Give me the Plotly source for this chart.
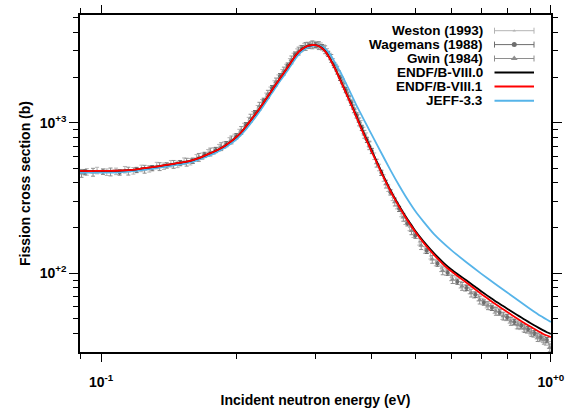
import math
import plotly.graph_objects as go

# ---------------- data ----------------
# Evaluated curves (energy in eV, cross section in barns)
endf_E = [0.0898, 0.095, 0.100, 0.105, 0.110, 0.115, 0.120, 0.125, 0.130, 0.135, 0.140, 0.145,
          0.150, 0.155, 0.160, 0.165, 0.170, 0.175, 0.180, 0.185, 0.190, 0.195, 0.200, 0.205,
          0.210, 0.215, 0.220, 0.225, 0.230, 0.235, 0.240, 0.245, 0.250, 0.255, 0.260, 0.265,
          0.270, 0.275, 0.280, 0.285, 0.290, 0.295, 0.300, 0.305, 0.310, 0.315, 0.320, 0.325,
          0.330, 0.335, 0.340, 0.345, 0.350, 0.355, 0.360, 0.365, 0.370, 0.375, 0.380, 0.385,
          0.390, 0.400, 0.410, 0.420, 0.430, 0.440, 0.450, 0.460, 0.470, 0.480, 0.490, 0.500,
          0.520, 0.540, 0.560, 0.580, 0.600, 0.620, 0.640, 0.660, 0.680, 0.700, 0.720, 0.740,
          0.760, 0.780, 0.800, 0.820, 0.840, 0.860, 0.880, 0.900, 0.920, 0.940, 0.960, 0.980, 1.000]
endf81_xs = [479, 478, 479, 479, 481, 485, 491, 499, 508, 516, 525, 534,
             543, 551, 565, 582, 605, 628, 652, 680, 715, 755, 805, 865,
             945, 1035, 1130, 1240, 1365, 1500, 1650, 1810, 1975, 2150, 2340, 2550,
             2770, 2960, 3090, 3190, 3250, 3285, 3275, 3225, 3130, 2980, 2780, 2560,
             2340, 2130, 1930, 1750, 1590, 1445, 1315, 1195, 1085, 985, 898, 822,
             755, 640, 545, 467, 403, 352, 311, 277, 249, 225, 205, 188,
             161, 141, 125, 112.5, 103.5, 96, 89.5, 83.5, 78, 73, 68.7, 64.8,
             61.3, 58.2, 55.3, 52.7, 50.3, 48.1, 46.1, 44.3, 42.6, 41.1, 39.7, 38.6, 37.7]
endf80_xs = [479, 478, 479, 479, 481, 485, 491, 499, 508, 516, 525, 534,
             543, 551, 565, 582, 605, 628, 652, 680, 715, 755, 805, 865,
             945, 1035, 1130, 1240, 1365, 1500, 1650, 1810, 1975, 2150, 2340, 2550,
             2770, 2960, 3090, 3190, 3250, 3285, 3278, 3230, 3138, 2990, 2792, 2573,
             2352, 2140, 1942, 1762, 1603, 1458, 1328, 1208, 1098, 998, 910, 834,
             766, 650, 554, 474, 409, 357, 315, 281, 253, 229, 209, 191,
             164.5, 144.5, 128.5, 116, 106.5, 99, 92.5, 86.5, 81, 76, 71.6, 67.8,
             64.2, 61.1, 58.2, 55.5, 53.1, 50.8, 48.7, 46.8, 45, 43.4, 41.9, 40.6, 39.6]

jeff_E = [0.0898, 0.10, 0.11, 0.12, 0.13, 0.14, 0.15, 0.16, 0.17, 0.18, 0.19, 0.20, 0.21, 0.22,
          0.23, 0.24, 0.25, 0.26, 0.27, 0.275, 0.28, 0.285, 0.29, 0.295, 0.30, 0.305, 0.31,
          0.315, 0.32, 0.325, 0.33, 0.34, 0.35, 0.36, 0.37, 0.38, 0.39, 0.40, 0.42, 0.44,
          0.46, 0.48, 0.50, 0.52, 0.55, 0.60, 0.65, 0.70, 0.75, 0.80, 0.85, 0.90, 0.95, 1.0]
jeff_xs = [467, 467, 469, 479, 495, 512, 530, 550, 588, 633, 692, 776, 905, 1080,
           1305, 1580, 1895, 2230, 2640, 2830, 2990, 3110, 3195, 3245, 3265, 3250, 3205,
           3110, 2960, 2780, 2560, 2190, 1840, 1545, 1300, 1115, 960, 830, 630, 485,
           383, 310, 258, 222, 182, 143, 118, 99.5, 85.5, 74.5, 65.5, 58, 52, 47.5]

# Measurements
weston_E = [0.093, 0.098, 0.103, 0.108, 0.113, 0.118, 0.123, 0.128, 0.133, 0.138, 0.143, 0.148,
            0.153, 0.158, 0.163, 0.168, 0.173, 0.178, 0.183, 0.188, 0.193, 0.198, 0.203, 0.208,
            0.213, 0.218, 0.223, 0.228, 0.233, 0.238, 0.243, 0.248, 0.253, 0.258, 0.263, 0.268,
            0.273, 0.278, 0.283, 0.288, 0.293, 0.298, 0.303, 0.308, 0.313, 0.318, 0.323, 0.328,
            0.333, 0.338, 0.343, 0.348, 0.353, 0.358, 0.363, 0.368, 0.373, 0.378, 0.383, 0.388,
            0.395, 0.405, 0.415, 0.425, 0.435, 0.445, 0.455, 0.465, 0.475, 0.485, 0.495, 0.51,
            0.525, 0.54, 0.555, 0.57, 0.585, 0.60, 0.615, 0.63, 0.645, 0.66, 0.675, 0.69,
            0.705, 0.72, 0.735, 0.75, 0.765, 0.78, 0.795, 0.81, 0.825, 0.84, 0.855, 0.87,
            0.885, 0.90, 0.915, 0.93, 0.945, 0.96, 0.975, 0.99]
weston_xs = [472, 482, 470, 476, 488, 480, 498, 495, 520, 515, 535, 530,
             556, 552, 585, 600, 632, 650, 684, 712, 758, 800, 862, 945,
             1035, 1130, 1240, 1360, 1500, 1645, 1810, 1980, 2150, 2330, 2540, 2760,
             2950, 3110, 3210, 3270, 3300, 3310, 3290, 3230, 3130, 2960, 2760, 2540,
             2330, 2120, 1920, 1750, 1590, 1445, 1310, 1195, 1085, 985, 890, 815,
             720, 600, 505, 430, 368, 320, 282, 250, 222, 202, 182, 162,
             143, 131, 118, 108, 102, 94, 90, 84, 80, 77, 72, 69,
             65, 62, 60, 57, 55.5, 52, 51, 49, 47.5, 45, 44.5, 43,
             42, 41, 39.5, 38.5, 37, 36.5, 35, 33.5]

wagemans_E = [0.092, 0.101, 0.110, 0.120, 0.130, 0.140, 0.150, 0.160, 0.170, 0.180, 0.190, 0.200,
              0.210, 0.220, 0.230, 0.240, 0.250, 0.260, 0.270, 0.280, 0.290, 0.300, 0.310, 0.320,
              0.330, 0.340, 0.350, 0.360, 0.370, 0.380, 0.390, 0.400, 0.420, 0.440, 0.460, 0.480,
              0.500, 0.530, 0.560, 0.590, 0.620, 0.650, 0.680, 0.710, 0.740, 0.770, 0.800, 0.830,
              0.860, 0.890, 0.920, 0.950, 0.980]
wagemans_xs = [470, 474, 468, 486, 500, 521, 540, 560, 612, 660, 722, 815,
               965, 1160, 1400, 1700, 2040, 2400, 2840, 3130, 3260, 3290, 3180, 2870,
               2420, 1990, 1650, 1360, 1120, 925, 770, 650, 465, 345, 268, 215,
               178, 141, 116, 101, 88, 80, 72, 64, 59, 55, 51, 47.5,
               45, 42.5, 40, 37.5, 36]

gwin_E = [0.0905, 0.096, 0.105, 0.115, 0.125, 0.135, 0.145, 0.155, 0.165, 0.175, 0.185, 0.195,
          0.205, 0.215, 0.225, 0.235, 0.245, 0.255, 0.265, 0.275, 0.285, 0.295, 0.305, 0.315,
          0.325, 0.335, 0.345, 0.355, 0.365, 0.375, 0.385, 0.395, 0.41, 0.43, 0.45, 0.47,
          0.49, 0.515, 0.545, 0.575, 0.605, 0.635, 0.665, 0.695, 0.725, 0.755, 0.785, 0.815,
          0.845, 0.875, 0.905, 0.935, 0.965, 0.995]
gwin_xs = [462, 470, 472, 478, 492, 512, 530, 548, 590, 640, 695, 770,
           890, 1075, 1290, 1550, 1870, 2210, 2620, 3000, 3220, 3300, 3260, 3060,
           2680, 2240, 1840, 1510, 1240, 1015, 840, 705, 540, 392, 298, 236,
           192, 153, 124, 104, 91, 82, 74, 66.5, 61, 56, 52, 48,
           45.5, 43, 40.5, 37.5, 36, 32]

x_tick_vals = [0.1, 1.0]
x_tick_text = ["10<sup>-1</sup>", "10<sup>+0</sup>"]
y_tick_vals = [100, 1000]
y_tick_text = ["10<sup>+2</sup>", "10<sup>+3</sup>"]
x_minor_vals = [0.09, 0.2, 0.3, 0.4, 0.5, 0.6, 0.7, 0.8, 0.9]
y_minor_vals = [40, 50, 60, 70, 80, 90, 200, 300, 400, 500, 600, 700, 800, 900,
                2000, 3000, 4000, 5000]

legend_names = ["Weston (1993)", "Wagemans (1988)", "Gwin (1984)",
                "ENDF/B-VIII.0", "ENDF/B-VIII.1", "JEFF-3.3"]

# ---------------- styles ----------------
FONT = "Liberation Sans, Arial, Helvetica, sans-serif"
C_WESTON = "#b4b4b4"
C_WAGEMANS = "#6e6e6e"
C_GWIN = "#8e8e8e"
C_E80 = "#000000"
C_E81 = "#ff0000"
C_JEFF = "#56b4e9"

fig = go.Figure()

def exp_trace(E, xs, color, symbol, size, pct):
    return go.Scatter(
        x=E, y=xs, mode="markers",
        marker=dict(color=color, symbol=symbol, size=size, line=dict(width=0)),
        error_y=dict(type="percent", value=pct, color=color, thickness=1, width=2),
        showlegend=False, hoverinfo="x+y")

fig.add_trace(exp_trace(weston_E, weston_xs, C_WESTON, "triangle-up", 3, 5))
fig.add_trace(exp_trace(wagemans_E, wagemans_xs, C_WAGEMANS, "circle", 4, 4))
fig.add_trace(exp_trace(gwin_E, gwin_xs, C_GWIN, "triangle-up", 5, 6))

fig.add_trace(go.Scatter(x=jeff_E, y=jeff_xs, mode="lines",
                         line=dict(color=C_JEFF, width=1.8, shape="spline", smoothing=0.6),
                         showlegend=False))
fig.add_trace(go.Scatter(x=endf_E, y=endf80_xs, mode="lines",
                         line=dict(color=C_E80, width=1.8, shape="spline", smoothing=0.6),
                         showlegend=False))
fig.add_trace(go.Scatter(x=endf_E, y=endf81_xs, mode="lines",
                         line=dict(color=C_E81, width=1.8, shape="spline", smoothing=0.6),
                         showlegend=False))

# ---------------- custom legend (text left of sample, like gnuplot) ----------------
W, H = 573, 408
L, R, T, B = 80, 551, 15, 352
row_py = [30.7, 44.6, 58.5, 72.5, 86.6, 100.7]
text_right_px = 485
samp_x0_px, samp_x1_px = 494.5, 534

def px2x(px):
    return (px - L) / (R - L)

def py2y(py):
    return (B - py) / (B - T)

sample_styles = [
    ("err", C_WESTON, "triangle-up", 3),
    ("err", C_WAGEMANS, "circle", 5),
    ("err", C_GWIN, "triangle-up", 6),
    ("line", C_E80, None, None),
    ("line", C_E81, None, None),
    ("line", C_JEFF, None, None),
]
annotations = []
xc = (px2x(samp_x0_px) + px2x(samp_x1_px)) / 2
half = (px2x(samp_x1_px) - px2x(samp_x0_px)) / 2
for name, py, (kind, col, sym, sz) in zip(legend_names, row_py, sample_styles):
    yy = py2y(py)
    if kind == "err":
        fig.add_trace(go.Scatter(
            x=[xc], y=[yy], xaxis="x2", yaxis="y2", mode="markers",
            marker=dict(color=col, symbol=sym, size=sz),
            error_x=dict(type="data", array=[half], color=col, thickness=1, width=3),
            showlegend=False, hoverinfo="skip"))
    else:
        fig.add_trace(go.Scatter(
            x=[px2x(samp_x0_px), px2x(samp_x1_px)], y=[yy, yy], xaxis="x2", yaxis="y2",
            mode="lines", line=dict(color=col, width=2),
            showlegend=False, hoverinfo="skip"))
    annotations.append(dict(
        x=px2x(text_right_px), y=yy, xref="paper", yref="paper",
        xanchor="right", yanchor="middle", showarrow=False, text=name,
        font=dict(family=FONT, size=13.5, color="black", weight="bold")))

axis_common = dict(
    type="log", showline=True, linecolor="black", linewidth=1.5, mirror="ticks",
    ticks="outside", tickcolor="black", tickwidth=1.2, automargin=False,
    showgrid=False, zeroline=False,
    tickfont=dict(family=FONT, size=14, color="black", weight="bold"),
)

fig.update_layout(
    width=W, height=H,
    margin=dict(l=L, r=W - R, t=T, b=H - B),
    paper_bgcolor="white", plot_bgcolor="white",
    font=dict(family=FONT, color="black"),
    xaxis=dict(
        **axis_common,
        range=[math.log10(0.0898), 0.0004],
        tickvals=x_tick_vals, ticktext=x_tick_text, ticklen=8, ticklabelstandoff=8,
        minor=dict(ticks="outside", ticklen=5, tickvals=x_minor_vals,
                   tickcolor="black", tickwidth=1, showgrid=False),
        title=dict(text="Incident neutron energy (eV)", standoff=8,
                   font=dict(family=FONT, size=14, color="black", weight="bold")),
    ),
    yaxis=dict(
        **axis_common,
        range=[math.log10(30), math.log10(5200)],
        tickvals=y_tick_vals, ticktext=y_tick_text, ticklen=9,
        minor=dict(ticks="outside", ticklen=5, tickvals=y_minor_vals,
                   tickcolor="black", tickwidth=1, showgrid=False),
        title=dict(text="Fission cross section (b)", standoff=6,
                   font=dict(family=FONT, size=14, color="black", weight="bold")),
    ),
    xaxis2=dict(overlaying="x", anchor="y2", range=[0, 1], visible=False, fixedrange=True),
    yaxis2=dict(overlaying="y", anchor="x2", range=[0, 1], visible=False, fixedrange=True),
    annotations=annotations,
)

fig.write_html("out.html")
